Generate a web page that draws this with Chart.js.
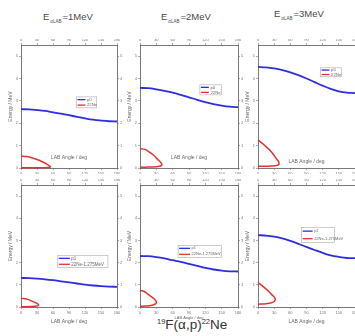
<!DOCTYPE html>
<html>
<head>
<meta charset="utf-8">
<script src="https://cdn.jsdelivr.net/npm/chart.js@4.4.1/dist/chart.umd.min.js"></script>
<style>
html, body { margin: 0; padding: 0; background: #fff; width: 355px; height: 336px; overflow: hidden; position: relative; font-family: "Liberation Sans", Arial, sans-serif; }
canvas { position: absolute; }
.ttl { position: absolute; color: #484848; font-size: 9.5px; white-space: nowrap; line-height: 1; }
.ttl sub { font-size: 4.5px; vertical-align: -3px; margin: 0 1px 0 1px; }
#big { position: absolute; left: 157px; top: 318px; font-size: 13.5px; color: #333; white-space: nowrap; line-height: 1; }
#big sup { font-size: 7.5px; vertical-align: 5px; }
</style>
</head>
<body>
<div class="ttl" style="left:43px;top:12px">E<sub>αLAB</sub>=1MeV</div>
<div class="ttl" style="left:161px;top:12px">E<sub>αLAB</sub>=2MeV</div>
<div class="ttl" style="left:274px;top:9px">E<sub>αLAB</sub>=3MeV</div>
<div id="big"><sup>19</sup>F(α,p)<sup>22</sup>Ne</div>
<script>
// axis ticks
const angleTicks = [0, 30, 60, 90, 120, 150, 180];
const energyTicks = [0, 1, 2, 3, 4, 5];

// proton lines (blue), same angles for every panel
const labAngles = [0, 15, 30, 45, 60, 75, 90, 105, 120, 135, 150, 165, 180];
const p0At1MeV = [2.63, 2.62, 2.59, 2.55, 2.49, 2.43, 2.36, 2.29, 2.22, 2.16, 2.12, 2.09, 2.08];
const p0At2MeV = [3.58, 3.57, 3.52, 3.45, 3.37, 3.27, 3.16, 3.05, 2.95, 2.86, 2.79, 2.74, 2.72];
const p0At3MeV = [4.52, 4.50, 4.45, 4.38, 4.28, 4.15, 4.00, 3.84, 3.68, 3.54, 3.43, 3.37, 3.35];
const p1At1MeV = [1.31, 1.30, 1.28, 1.25, 1.21, 1.16, 1.11, 1.06, 1.01, 0.97, 0.94, 0.92, 0.91];
const p1At2MeV = [2.30, 2.29, 2.25, 2.19, 2.11, 2.03, 1.94, 1.85, 1.76, 1.69, 1.64, 1.61, 1.60];
const p1At3MeV = [3.24, 3.22, 3.17, 3.09, 2.98, 2.85, 2.71, 2.57, 2.44, 2.33, 2.26, 2.21, 2.20];

// 22Ne recoil loops (red)
const neGsAngle1 = [0, 10, 20, 30, 40, 48, 53, 55, 50, 40, 25, 10, 0];
const neGsEnergy1 = [0.54, 0.51, 0.46, 0.38, 0.28, 0.18, 0.10, 0.04, 0.02, 0.015, 0.01, 0.01, 0.01];
const neGsAngle2 = [0, 10, 18, 25, 31, 36, 40, 39, 30, 15, 0];
const neGsEnergy2 = [0.87, 0.82, 0.70, 0.57, 0.42, 0.30, 0.18, 0.10, 0.06, 0.04, 0.04];
const neGsAngle3 = [0, 12, 25, 34, 39, 37, 25, 10, 0];
const neGsEnergy3 = [1.25, 1.02, 0.72, 0.42, 0.24, 0.13, 0.09, 0.08, 0.08];
const neExAngle1 = [0, 10, 17, 24, 29, 33, 31, 20, 0];
const neExEnergy1 = [0.40, 0.36, 0.30, 0.23, 0.17, 0.10, 0.05, 0.02, 0.01];
const neExAngle2 = [0, 8, 15, 20, 25, 30, 29, 22, 10, 0];
const neExEnergy2 = [0.75, 0.70, 0.57, 0.48, 0.39, 0.25, 0.15, 0.08, 0.04, 0.03];
const neExAngle3 = [0, 12, 20, 25, 30, 32, 30, 25, 15, 0];
const neExEnergy3 = [1.10, 0.87, 0.70, 0.57, 0.45, 0.35, 0.25, 0.19, 0.15, 0.12];

const pts = (xs, ys) => xs.map((x, i) => ({ x: x, y: ys[i] }));

Chart.defaults.font.family = '"Liberation Sans", Arial, sans-serif';

// legend box drawn inside the plot, placed in data coordinates
const boxLegend = {
    id: 'boxLegend',
    afterDatasetsDraw(chart, args, opts) {
        const { ctx, scales: { x, y } } = chart;
        const l = x.getPixelForValue(opts.from), r = x.getPixelForValue(opts.to);
        const t = y.getPixelForValue(opts.high), b = y.getPixelForValue(opts.low);
        ctx.save();
        ctx.fillStyle = '#fff';
        ctx.fillRect(l, t, r - l, b - t);
        ctx.strokeStyle = '#aaa';
        ctx.lineWidth = 0.6;
        ctx.strokeRect(l, t, r - l, b - t);
        const rowH = (b - t) / chart.data.datasets.length;
        chart.data.datasets.forEach((ds, i) => {
            const cy = t + rowH * (i + 0.5);
            ctx.strokeStyle = ds.borderColor;
            ctx.lineWidth = 1.3;
            ctx.beginPath();
            ctx.moveTo(l + 1, cy);
            ctx.lineTo(l + 1 + opts.line, cy);
            ctx.stroke();
            ctx.fillStyle = '#666';
            ctx.font = opts.font + 'px "Liberation Sans", Arial, sans-serif';
            ctx.textBaseline = 'middle';
            ctx.fillText(ds.label, l + 2.5 + opts.line, cy);
        });
        ctx.restore();
    }
};

const panels = [
    { plot: [21, 45, 117, 168], low: false, blue: p0At1MeV, redA: neGsAngle1, redE: neGsEnergy1, blueLabel: 'p0', redLabel: '22Ne',
      legend: { from: 104, to: 142, high: 3.18, low: 2.69, line: 8, font: 4.3 }, titlePad: 13, titleSize: 5 },
    { plot: [140, 45, 238, 168], low: false, blue: p0At2MeV, redA: neGsAngle2, redE: neGsEnergy2, blueLabel: 'p0', redLabel: '22Ne',
      legend: { from: 110, to: 150, high: 3.72, low: 3.27, line: 8, font: 4.3 }, titlePad: 13, titleSize: 5 },
    { plot: [258, 45, 355, 168], low: false, blue: p0At3MeV, redA: neGsAngle3, redE: neGsEnergy3, blueLabel: 'p0', redLabel: '22Ne',
      legend: { from: 116, to: 155, high: 4.48, low: 4.08, line: 8, font: 4.3 }, titlePad: 9, titleSize: 5 },
    { plot: [21, 185, 117, 307], low: true, blue: p1At1MeV, redA: neExAngle1, redE: neExEnergy1, blueLabel: 'p1', redLabel: '22Ne-1.275MeV',
      legend: { from: 69, to: 163, high: 2.33, low: 1.79, line: 11, font: 4.5 }, titlePad: 2, titleSize: 5 },
    { plot: [140, 185, 238, 307], low: true, blue: p1At2MeV, redA: neExAngle2, redE: neExEnergy2, blueLabel: 'p1', redLabel: '22Ne-1.275MeV',
      legend: { from: 70, to: 150, high: 2.78, low: 2.24, line: 11, font: 4 }, titlePad: 7, titleSize: 4 },
    { plot: [258, 185, 355, 307], low: true, blue: p1At3MeV, redA: neExAngle3, redE: neExEnergy3, blueLabel: 'p1', redLabel: '22Ne-1.275MeV',
      legend: { from: 81, to: 142, high: 3.59, low: 2.91, line: 10, font: 4 }, titlePad: 2, titleSize: 5 }
];

const axisBits = {
    grid: { drawOnChartArea: false, tickLength: 2, color: '#777', lineWidth: 0.6 },
    border: { color: '#555', width: 0.8 },
    ticks: { font: { size: 4 }, color: '#777', padding: 1, autoSkip: false, maxRotation: 0 }
};

panels.forEach(p => {
    const [pl, pt, pr, pb] = p.plot;
    const leftW = 14, rightW = 6, topH = 6, botH = p.low ? 20 : 6;
    const cv = document.createElement('canvas');
    cv.width = leftW + (pr - pl) + rightW;
    cv.height = topH + (pb - pt) + botH;
    cv.style.left = (pl - leftW) + 'px';
    cv.style.top = (pt - topH) + 'px';
    document.body.appendChild(cv);

    const xAxis = (pos, h) => ({
        type: 'linear', axis: 'x', position: pos, min: 0, max: 180, ...axisBits,
        afterBuildTicks: s => { s.ticks = angleTicks.map(v => ({ value: v })) },
        afterFit: s => { s.height = h }
    });
    const yAxis = (pos, w) => ({
        type: 'linear', axis: 'y', position: pos, min: 0, max: 5.5, ...axisBits,
        afterBuildTicks: s => { s.ticks = energyTicks.map(v => ({ value: v })) },
        afterFit: s => { s.width = w }
    });

    const x = xAxis('bottom', botH);
    x.title = { display: true, text: 'LAB Angle / deg', color: '#666', font: { size: p.titleSize }, padding: { top: 0, bottom: p.titlePad } };
    const y = yAxis('left', leftW);
    y.title = { display: true, text: 'Energy / MeV', color: '#666', font: { size: 5 }, padding: { top: 1, bottom: 0 } };

    new Chart(cv, {
        type: 'scatter',
        data: {
            datasets: [
                { label: p.blueLabel, data: pts(labAngles, p.blue), showLine: true, borderColor: 'rgb(45,45,225)', borderWidth: 1.8, pointRadius: 0, tension: 0.4, clip: false },
                { label: p.redLabel, data: pts(p.redA, p.redE), showLine: true, borderColor: 'rgb(228,50,50)', borderWidth: 1.5, pointRadius: 0, tension: 0.4, clip: false }
            ]
        },
        options: {
            responsive: false,
            animation: false,
            layout: { padding: 0 },
            plugins: { legend: { display: false }, tooltip: { enabled: false }, boxLegend: p.legend },
            scales: { x: x, x2: xAxis('top', topH), y: y, y2: yAxis('right', rightW) }
        },
        plugins: [boxLegend]
    });
});
</script>
</body>
</html>
